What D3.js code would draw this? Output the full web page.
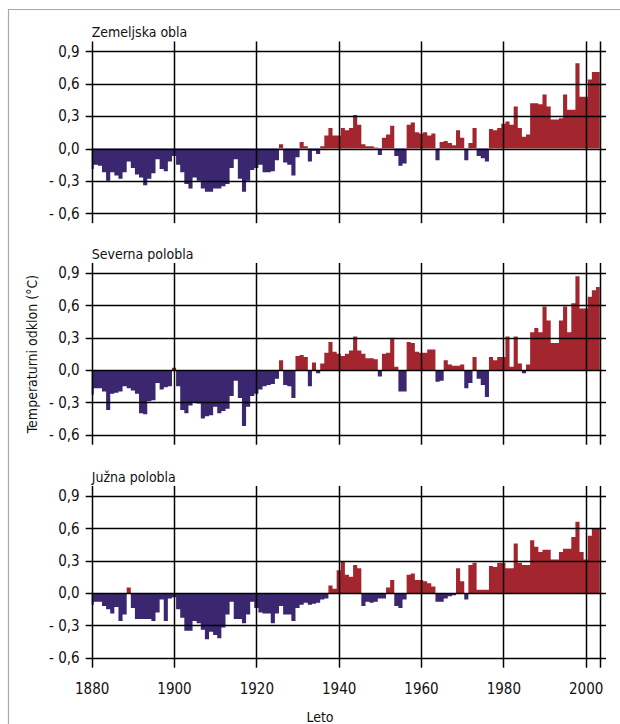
<!DOCTYPE html>
<html>
<head>
<meta charset="utf-8">
<script src="https://cdn.jsdelivr.net/npm/d3@7"></script>
<style>
  html, body { margin: 0; padding: 0; background: #fff; }
  svg { display: block; }
  text { font-family: "DejaVu Sans Condensed", "Liberation Sans Narrow", "Roboto", sans-serif; fill: #111; }
</style>
</head>
<body>
<script>
// ---------- DATA ----------
const startYear = 1880;
const panelTitles = ["Zemeljska obla", "Severna polobla", "Južna polobla"];
const yTicks = [0.9, 0.6, 0.3, 0.0, -0.3, -0.6];
const xTicks = [1880, 1900, 1920, 1940, 1960, 1980, 2000];
const xLabel = "Leto";
const yLabel = "Temperaturni odklon (°C)";

// Global (1880–2003)
const globalValues = [
  -0.19,-0.15,-0.16,-0.22,-0.30,-0.22,-0.25,-0.28,-0.22,-0.12,
  -0.18,-0.24,-0.27,-0.34,-0.28,-0.23,-0.10,-0.19,-0.21,-0.12,
  -0.07,-0.15,-0.22,-0.33,-0.37,-0.27,-0.30,-0.37,-0.40,-0.40,
  -0.37,-0.37,-0.35,-0.33,-0.18,-0.10,-0.28,-0.40,-0.30,-0.20,
  -0.18,-0.15,-0.22,-0.22,-0.21,-0.11,0.04,-0.13,-0.15,-0.25,
  -0.08,0.06,0.02,-0.12,-0.02,-0.05,0.02,0.12,0.19,0.12,
  0.12,0.19,0.17,0.19,0.31,0.22,0.04,0.02,0.02,0.01,
  -0.06,0.10,0.13,0.21,-0.07,-0.16,-0.14,0.22,0.24,0.15,
  0.14,0.15,0.12,0.14,-0.11,0.06,0.07,0.05,0.03,0.17,
  0.10,-0.11,0.05,0.19,-0.07,-0.09,-0.12,0.18,0.17,0.19,
  0.23,0.25,0.22,0.39,0.19,0.11,0.13,0.42,0.42,0.41,
  0.50,0.39,0.27,0.27,0.28,0.50,0.36,0.36,0.79,0.48,
  0.48,0.64,0.71,0.71
];
// Northern hemisphere (1880–2003)
const northValues = [
  -0.23,-0.17,-0.17,-0.20,-0.37,-0.22,-0.21,-0.20,-0.15,-0.17,
  -0.19,-0.22,-0.40,-0.41,-0.29,-0.28,-0.12,-0.18,-0.16,-0.15,
  0.02,-0.15,-0.37,-0.40,-0.33,-0.30,-0.31,-0.45,-0.43,-0.42,
  -0.34,-0.40,-0.38,-0.36,-0.24,-0.10,-0.26,-0.52,-0.34,-0.24,
  -0.22,-0.18,-0.15,-0.14,-0.13,-0.08,0.09,-0.14,-0.15,-0.26,
  0.13,0.14,0.12,-0.15,0.07,-0.03,0.06,0.16,0.26,0.17,
  0.15,0.13,0.15,0.18,0.31,0.18,0.15,0.11,0.11,0.10,
  -0.06,0.15,0.16,0.30,0.03,-0.20,-0.20,0.26,0.25,0.17,
  0.16,0.16,0.19,0.19,-0.11,-0.10,0.09,0.05,0.04,0.04,
  0.05,-0.17,-0.12,0.12,-0.08,-0.14,-0.25,0.12,0.09,0.12,
  0.12,0.31,0.03,0.31,0.06,-0.03,0.05,0.35,0.39,0.35,
  0.59,0.46,0.25,0.25,0.46,0.59,0.35,0.62,0.87,0.57,
  0.57,0.68,0.74,0.77
];
// Southern hemisphere (1880–2003)
const southValues = [
  -0.11,-0.08,-0.08,-0.12,-0.15,-0.19,-0.13,-0.26,-0.20,0.05,
  -0.14,-0.24,-0.24,-0.24,-0.24,-0.26,-0.18,-0.06,-0.26,-0.05,
  -0.04,-0.15,-0.23,-0.35,-0.35,-0.26,-0.28,-0.34,-0.43,-0.36,
  -0.39,-0.42,-0.32,-0.20,-0.08,-0.24,-0.24,-0.28,-0.20,-0.08,
  -0.14,-0.18,-0.19,-0.19,-0.28,-0.19,-0.12,-0.20,-0.20,-0.26,
  -0.14,-0.11,-0.09,-0.11,-0.10,-0.09,-0.06,-0.05,0.07,0.04,
  0.21,0.29,0.17,0.15,0.26,0.23,-0.12,-0.08,-0.09,-0.08,
  -0.05,-0.05,0.05,0.12,-0.12,-0.14,-0.06,0.17,0.18,0.12,
  0.12,0.11,0.09,0.06,-0.08,-0.08,-0.05,-0.03,-0.02,0.23,
  0.11,-0.06,0.26,0.28,0.03,0.03,0.03,0.25,0.24,0.28,
  0.28,0.23,0.23,0.46,0.28,0.26,0.26,0.49,0.43,0.38,
  0.40,0.40,0.31,0.31,0.38,0.41,0.41,0.52,0.66,0.38,
  0.31,0.53,0.60,0.60
];
const seriesList = [globalValues, northValues, southValues];

// ---------- LAYOUT ----------
const W = 620, H = 724;
const endYear = 2003.4;
const plotLeft = 91.7, plotRight = 599.7;
const zeroYs = [148.5, 370, 593];
const unit = 32.35; // px per 0.3
const blue = "#3a2570", red = "#a3262f";
const fontStack = '"DejaVu Sans Condensed", "Liberation Sans Narrow", Roboto, sans-serif';
const snap = v => Math.round(v) + 0.5;

const svg = d3.select("body").append("svg").attr("width", W).attr("height", H);

const defs = svg.append("defs");
defs.append("filter").attr("id", "soft")
  .attr("x", "-5%").attr("y", "-5%").attr("width", "110%").attr("height", "110%")
  .append("feGaussianBlur").attr("stdDeviation", 0.7);

// frame
svg.append("line").attr("x1", 8).attr("x2", W).attr("y1", 9.5).attr("y2", 9.5)
  .attr("stroke", "#a8a8a8").attr("stroke-width", 1.2);
svg.append("line").attr("x1", 8.5).attr("x2", 8.5).attr("y1", 9).attr("y2", H)
  .attr("stroke", "#a8a8a8").attr("stroke-width", 1.2);

const x = d3.scaleLinear().domain([startYear, endYear]).range([plotLeft, plotRight]);

seriesList.forEach((vals, i) => {
  const z = zeroYs[i];
  const y = d3.scaleLinear().domain([-0.6, 0.9]).range([z + 2 * unit, z - 3 * unit]);
  const g = svg.append("g");

  // step points: each year's bar spans [year-0.5, year+0.5], clipped to the domain
  const pts = vals.map((v, k) => ({ edge: Math.max(startYear + k - 0.5, startYear), v }));
  pts.push({ edge: endYear, v: vals[vals.length - 1] });

  const posArea = d3.area().curve(d3.curveStepAfter)
    .x(d => x(d.edge)).y0(y(0)).y1(d => y(Math.max(0, d.v)));
  const negArea = d3.area().curve(d3.curveStepAfter)
    .x(d => x(d.edge)).y0(y(0)).y1(d => y(Math.min(0, d.v)));

  const bars = g.append("g").attr("filter", "url(#soft)");
  bars.append("path").datum(pts).attr("d", negArea).attr("fill", blue);
  bars.append("path").datum(pts).attr("d", posArea).attr("fill", red);

  // y tick labels
  const yAxis = d3.axisLeft(y).tickValues(yTicks).tickSize(0)
    .tickFormat(d => (d < 0 ? "- " : "") + d3.format(".1f")(Math.abs(d)).replace(".", ","));
  const ya = g.append("g").attr("transform", `translate(${plotLeft - 12},0)`).call(yAxis);
  ya.select(".domain").remove();
  ya.selectAll("text").attr("font-size", 15).attr("x", 0)
    .attr("font-family", fontStack).attr("fill", "#111");

  // horizontal grid
  g.append("g").selectAll("line").data(yTicks).join("line")
    .attr("x1", plotLeft - 6).attr("x2", 606)
    .attr("y1", d => snap(y(d))).attr("y2", d => snap(y(d)))
    .attr("stroke", "#000").attr("stroke-width", 1.5);

  // vertical grid
  const vlines = xTicks.concat([endYear]);
  g.append("g").selectAll("line").data(vlines).join("line")
    .attr("x1", d => snap(x(d))).attr("x2", d => snap(x(d)))
    .attr("y1", y(0.9) - 10).attr("y2", y(-0.6) + 10)
    .attr("stroke", "#000").attr("stroke-width", 1.5);

  // title
  g.append("text").attr("x", plotLeft).attr("y", y(0.9) - 14)
    .attr("font-size", 14).text(panelTitles[i]);

  // x tick labels (bottom panel only)
  if (i === seriesList.length - 1) {
    const xAxis = d3.axisBottom(x).tickValues(xTicks).tickSize(0).tickFormat(d3.format("d"));
    const xa = g.append("g").attr("transform", `translate(0,${y(-0.6) + 26})`).call(xAxis);
    xa.select(".domain").remove();
    xa.selectAll("text").attr("font-size", 15).attr("y", 0)
      .attr("font-family", fontStack).attr("fill", "#111");
  }
});

// axis labels
svg.append("text").attr("x", 320).attr("y", 722).attr("text-anchor", "middle")
  .attr("font-size", 14).text(xLabel);
svg.append("text").attr("transform", "translate(37,354) rotate(-90)")
  .attr("text-anchor", "middle").attr("font-size", 14).text(yLabel);
</script>
</body>
</html>
